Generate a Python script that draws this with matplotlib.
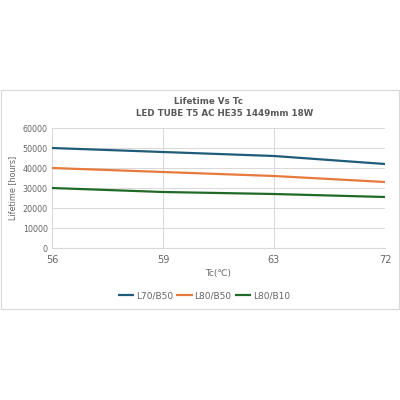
import matplotlib
matplotlib.use("Agg")
import matplotlib.pyplot as plt
from matplotlib.patches import Rectangle

categories = ["56", "59", "63", "72"]
l70_b50 = [50000, 48000, 46000, 42000]
l80_b50 = [40000, 38000, 36000, 33000]
l80_b10 = [30000, 28000, 27000, 25500]
series_names = ["L70/B50", "L80/B50", "L80/B10"]
colors = ["#1f5c7a", "#e67a3c", "#1f6b26"]

plt.rcParams['font.family'] = ['DejaVu Sans']
fig = plt.figure(figsize=(4, 4), dpi=100)
fig.patch.set_facecolor("white")
fig.patches.append(Rectangle((0.003, 1 - 309/400), 0.994, (309 - 90)/400,
                             transform=fig.transFigure, facecolor="none",
                             edgecolor="#d9d9d9", linewidth=0.8, zorder=-10))

ax = fig.add_axes([52/400, 1 - 248/400, (385 - 52)/400, 120/400])
ax.patch.set_alpha(0)
x = list(range(len(categories)))
for vals, name, c in zip([l70_b50, l80_b50, l80_b10], series_names, colors):
    ax.plot(x, vals, color=c, linewidth=1.6, label=name, solid_capstyle="butt")

ax.set_xlim(0, len(categories) - 1)
ax.set_ylim(0, 60000)
ax.set_yticks(range(0, 60001, 10000))
ax.set_xticks(x)
ax.set_xticklabels(categories)
ax.grid(True, color="#d9d9d9", linewidth=0.7)
ax.set_axisbelow(True)
for s in ["top", "right", "left"]:
    ax.spines[s].set_visible(False)
ax.spines["bottom"].set_color("#d9d9d9")
ax.tick_params(axis="y", length=0, labelsize=5.8, labelcolor="#666666", pad=3)
ax.tick_params(axis="x", length=0, labelsize=7, labelcolor="#666666", pad=5)
ax.set_xlabel("Tc(℃)", fontsize=6.5, color="#666666", labelpad=3)
ax.set_ylabel("Lifetime [hours]", fontsize=5.8, color="#666666", labelpad=4)
fig.text(209/400, 1 - 102/400, "Lifetime Vs Tc", fontsize=6.3, fontweight="bold",
         color="#595959", ha="center", va="center")
fig.text(225/400, 1 - 113/400, "LED TUBE T5 AC HE35 1449mm 18W", fontsize=6.3,
         fontweight="bold", color="#595959", ha="center", va="center")
handles, labels = ax.get_legend_handles_labels()
leg = fig.legend(handles, labels, loc="center", bbox_to_anchor=(204/400, 1 - 296/400),
                 ncol=3, frameon=False, fontsize=6.5, handlelength=1.8,
                 handletextpad=0.2, columnspacing=0.4)
for t in leg.get_texts():
    t.set_color("#666666")
fig.savefig("out.png", dpi=100, facecolor="white")
